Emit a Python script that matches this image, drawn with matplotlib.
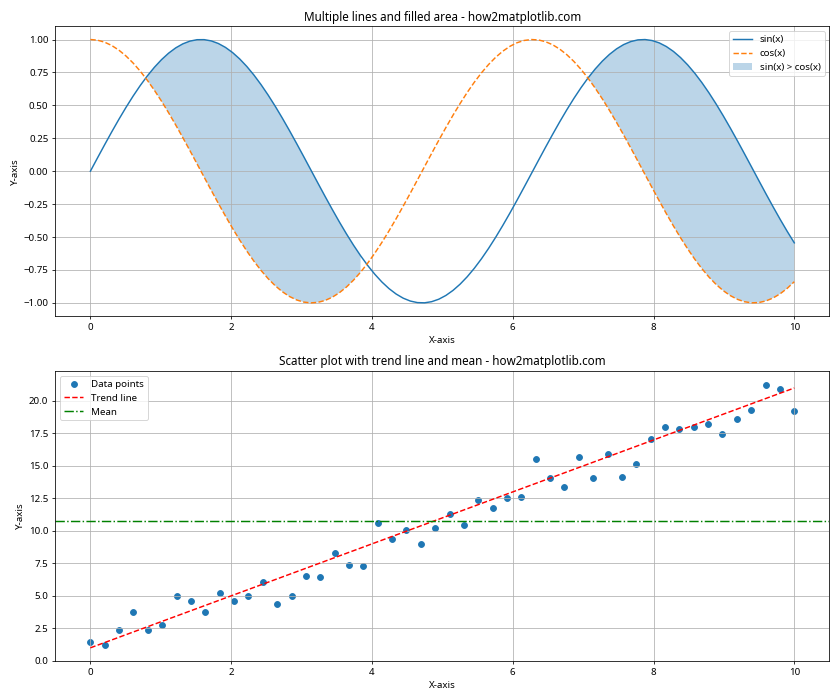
import numpy as np
import matplotlib.pyplot as plt

plt.rcParams['font.family'] = ['Noto Sans', 'DejaVu Sans']

# top panel: sampled curves
x_curve = np.linspace(0, 10, 100)
sin_y = np.sin(x_curve)
cos_y = np.cos(x_curve)

# bottom panel: scatter data
x_pts = np.linspace(0, 10, 50)
y_pts = [1.43, 1.23, 2.40, 3.72, 2.40, 2.79, 4.98, 4.58, 3.72, 5.21,
         4.58, 4.98, 6.09, 4.35, 4.98, 6.54, 6.46, 8.26, 7.40, 7.32,
         10.60, 9.35, 10.05, 8.96, 10.20, 11.30, 10.43, 12.40, 11.77, 12.55,
         12.63, 15.50, 14.04, 13.41, 15.68, 14.04, 15.91, 14.12, 15.13, 17.09,
         18.02, 17.87, 18.02, 18.26, 17.48, 18.65, 19.27, 21.23, 20.91, 19.20]
y_pts = np.array(y_pts)
trend_slope = 2.0
trend_intercept = 1.0

fig, (ax1, ax2) = plt.subplots(2, 1, figsize=(12, 10), dpi=70)

ax1.plot(x_curve, sin_y, label='sin(x)')
ax1.plot(x_curve, cos_y, '--', label='cos(x)')
ax1.fill_between(x_curve, sin_y, cos_y, where=(sin_y > cos_y), alpha=0.3, label='sin(x) > cos(x)')
ax1.set_title('Multiple lines and filled area - how2matplotlib.com')
ax1.set_xlabel('X-axis')
ax1.set_ylabel('Y-axis')
ax1.legend()
ax1.grid(True)

ax2.scatter(x_pts, y_pts, label='Data points')
ax2.plot(x_pts, trend_slope * x_pts + trend_intercept, 'r--', label='Trend line')
ax2.axhline(np.mean(y_pts), color='g', linestyle='-.', label='Mean')
ax2.set_title('Scatter plot with trend line and mean - how2matplotlib.com')
ax2.set_xlabel('X-axis')
ax2.set_ylabel('Y-axis')
ax2.set_ylim(0, 22.3)
ax2.legend()
ax2.grid(True)

plt.tight_layout()
plt.savefig('out.png')
